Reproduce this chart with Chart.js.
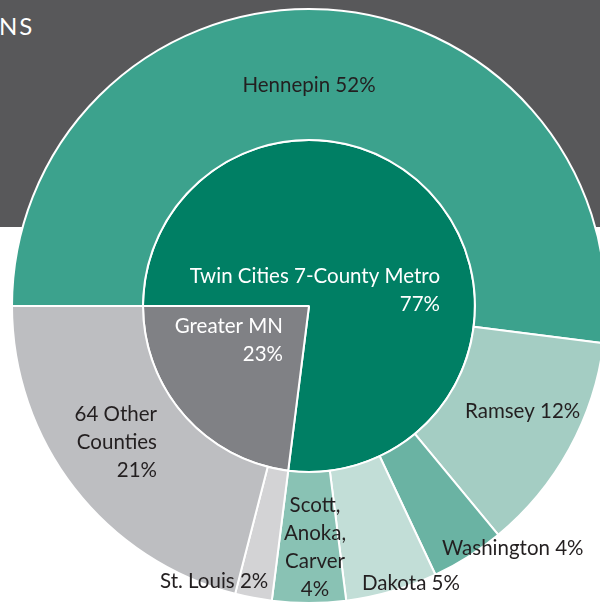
<!DOCTYPE html>
<html>
<head>
<meta charset="utf-8">
<script src="https://cdn.jsdelivr.net/npm/chart.js@4"></script>
<style>
  html, body { margin: 0; padding: 0; width: 600px; height: 603px; overflow: hidden; background: #fff; }
  #band { position: absolute; left: 0; top: 0; width: 600px; height: 227px; background: #58585a; }
  #title { position: absolute; left: -1px; top: 11px; color: #fff; font: 400 24px Lato, sans-serif; letter-spacing: 2px; }
  #wrap { position: absolute; left: 11px; top: 8px; width: 596px; height: 596px; }
</style>
</head>
<body>
<div id="band"></div>
<div id="title">NS</div>
<div id="wrap"><canvas id="chartSunburst"></canvas></div>
<script>
  /* ── data ────────────────────────────────────────────── */
  const regions      = ['Twin Cities 7-County Metro', 'Greater MN'];
  const regionShares = [77, 23];
  const counties     = ['Hennepin', 'Ramsey', 'Washington', 'Dakota', 'Scott, Anoka, Carver', 'St. Louis', '64 Other Counties'];
  const countyShares = [52, 12, 4, 5, 4, 2, 21];

  const regionColors = ['#007f64', '#808185'];
  const countyColors = ['#3ca28d', '#a4cdc3', '#6ab3a3', '#c2ded7', '#89c2b4', '#d3d3d5', '#bdbec1'];

  /* label text, placed relative to the pie centre */
  const labels = [
    { lines: ['Hennepin 52%'],                        dx:   0, dy: -214, align: 'center', color: '#231f20' },
    { lines: ['Twin Cities 7-County Metro', '77%'],   dx: 131, dy:  -23, align: 'right',  color: '#fff' },
    { lines: ['Greater MN', '23%'],                   dx: -26, dy:   27, align: 'right',  color: '#fff' },
    { lines: ['64 Other', 'Counties', '21%'],         dx: -152, dy: 115, align: 'right',  color: '#231f20' },
    { lines: ['Ramsey 12%'],                          dx: 156, dy:  112, align: 'left',   color: '#231f20' },
    { lines: ['Washington 4%'],                       dx: 133, dy:  249, align: 'left',   color: '#231f20' },
    { lines: ['Dakota 5%'],                           dx:  53, dy:  284, align: 'left',   color: '#231f20' },
    { lines: ['Scott,', 'Anoka,', 'Carver', '4%'],    dx:   6, dy:  206, align: 'center', color: '#231f20' },
    { lines: ['St. Louis 2%'],                        dx: -149, dy: 282, align: 'left',   color: '#231f20' },
  ];

  const labelPlugin = {
    id: 'sliceLabels',
    afterDraw(chart) {
      const arc = chart.getDatasetMeta(1).data[0];
      if (!arc) return;
      const ctx = chart.ctx;
      ctx.save();
      ctx.font = '400 20.5px Lato, sans-serif';
      ctx.textBaseline = 'alphabetic';
      labels.forEach(l => {
        ctx.fillStyle = l.color;
        ctx.textAlign = l.align;
        l.lines.forEach((t, i) => ctx.fillText(t, arc.x + l.dx, arc.y + l.dy + i * 28));
      });
      ctx.restore();
    },
  };

  new Chart(document.getElementById('chartSunburst'), {
    type: 'doughnut',
    data: {
      labels: counties,
      datasets: [
        {
          data: countyShares,
          backgroundColor: countyColors,
          borderColor: '#fff',
          borderWidth: 2,
          weight: 131,
        },
        {
          labels: regions,
          data: regionShares,
          backgroundColor: regionColors,
          borderColor: '#fff',
          borderWidth: 2,
          weight: 166,
        },
      ],
    },
    options: {
      responsive: true,
      maintainAspectRatio: false,
      animation: false,
      cutout: 0,
      rotation: -90,
      layout: { padding: 0 },
      plugins: {
        legend: { display: false },
        tooltip: { enabled: false },
      },
    },
    plugins: [labelPlugin],
  });
</script>
</body>
</html>
